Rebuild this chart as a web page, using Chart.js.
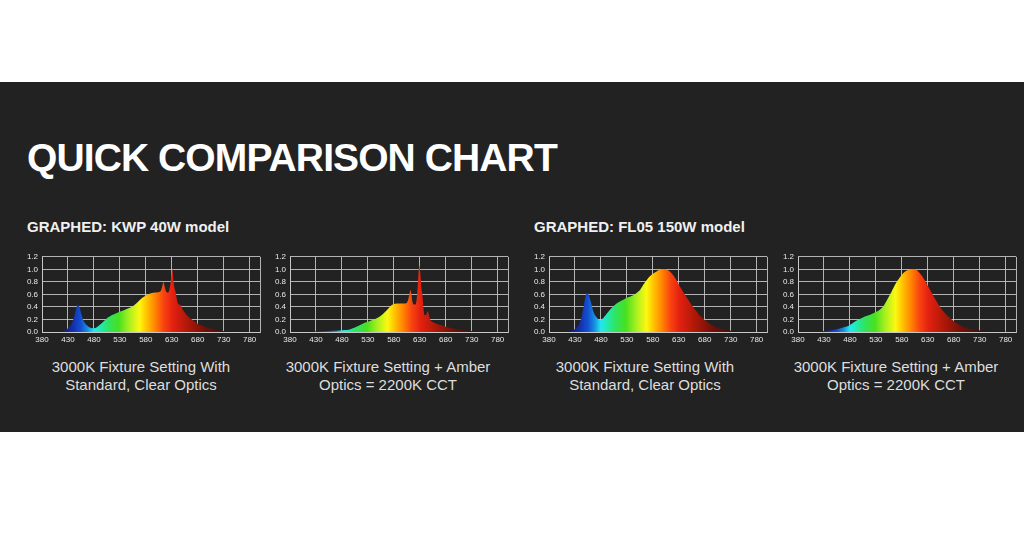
<!DOCTYPE html>
<html lang="en">
<head>
    <meta charset="UTF-8">
    <title>Quick Comparison Chart</title>
    <script src="https://cdn.jsdelivr.net/npm/chart.js@4.4.1/dist/chart.umd.min.js"></script>
    <style>
        body {
            margin: 0;
            width: 1024px;
            height: 538px;
            background: #ffffff;
            font-family: "Liberation Sans", Arial, sans-serif;
            position: relative;
            overflow: hidden;
        }
        .band {
            position: absolute;
            left: 0;
            top: 82px;
            width: 1024px;
            height: 350px;
            background: #222222;
        }
        .title {
            position: absolute;
            left: 27px;
            top: 136px;
            font-size: 39px;
            font-weight: bold;
            letter-spacing: -0.9px;
            color: #ffffff;
            white-space: nowrap;
        }
        .subtitle {
            position: absolute;
            top: 218px;
            font-size: 15px;
            font-weight: bold;
            color: #f0f0f0;
            white-space: nowrap;
        }
        canvas {
            position: absolute;
            top: 248px;
        }
        .caption {
            position: absolute;
            top: 358px;
            width: 260px;
            text-align: center;
            font-size: 15px;
            line-height: 18px;
            color: #dedede;
        }
    </style>
</head>
<body>
    <div class="band"></div>
    <div class="title">QUICK COMPARISON CHART</div>
    <div class="subtitle" style="left:27px">GRAPHED: KWP 40W model</div>
    <div class="subtitle" style="left:534px">GRAPHED: FL05 150W model</div>

    <canvas id="chart1" width="244" height="99" style="left:20px"></canvas>
    <canvas id="chart2" width="244" height="99" style="left:268px"></canvas>
    <canvas id="chart3" width="244" height="99" style="left:527px"></canvas>
    <canvas id="chart4" width="244" height="99" style="left:776px"></canvas>

    <div class="caption" style="left:11px">3000K Fixture Setting With<br>Standard, Clear Optics</div>
    <div class="caption" style="left:258px">3000K Fixture Setting + Amber<br>Optics = 2200K CCT</div>
    <div class="caption" style="left:515px">3000K Fixture Setting With<br>Standard, Clear Optics</div>
    <div class="caption" style="left:766px">3000K Fixture Setting + Amber<br>Optics = 2200K CCT</div>

    <script>
        // axis ticks (nm / relative intensity)
        const xTicks = [380, 430, 480, 530, 580, 630, 680, 730, 780];
        const xEnd = 800;
        const yTicks = [0, 0.2, 0.4, 0.6, 0.8, 1.0, 1.2];

        // KWP 40W, 3000K clear optics
        const kwpClearNm = [400, 410, 420, 430, 437, 442, 446, 449, 452, 456, 460, 466, 472, 478, 483, 488, 494, 500, 507, 515, 523, 532, 541, 550, 558, 566, 574, 582, 590, 598, 605, 609, 612, 614, 616, 619, 622, 625, 628, 630, 631, 633, 635, 637, 640, 643, 646, 648, 651, 655, 660, 667, 675, 685, 695, 705, 715, 725, 735, 745, 755];
        const kwpClearVal = [0, 0.005, 0.02, 0.06, 0.13, 0.25, 0.38, 0.43, 0.40, 0.28, 0.18, 0.11, 0.07, 0.06, 0.065, 0.09, 0.13, 0.18, 0.23, 0.27, 0.30, 0.33, 0.36, 0.39, 0.43, 0.49, 0.55, 0.59, 0.62, 0.63, 0.64, 0.66, 0.74, 0.80, 0.74, 0.65, 0.63, 0.66, 0.80, 0.98, 1.0, 0.85, 0.72, 0.66, 0.52, 0.44, 0.44, 0.41, 0.36, 0.31, 0.26, 0.21, 0.16, 0.11, 0.08, 0.055, 0.035, 0.02, 0.01, 0.003, 0];

        // KWP 40W, amber optics
        const kwpAmberNm = [415, 425, 440, 460, 475, 485, 495, 505, 515, 525, 535, 545, 555, 563, 570, 576, 582, 590, 598, 604, 607, 610, 612, 614, 616, 619, 622, 625, 627, 629, 631, 633, 635, 637, 639, 642, 645, 647, 650, 655, 662, 670, 680, 690, 700, 710, 720, 730, 740, 750, 760];
        const kwpAmberVal = [0, 0.008, 0.015, 0.02, 0.025, 0.03, 0.04, 0.07, 0.11, 0.15, 0.18, 0.21, 0.26, 0.32, 0.38, 0.43, 0.45, 0.455, 0.455, 0.46, 0.50, 0.60, 0.67, 0.60, 0.48, 0.44, 0.44, 0.60, 0.85, 1.06, 0.95, 0.72, 0.60, 0.40, 0.27, 0.27, 0.33, 0.30, 0.20, 0.16, 0.13, 0.11, 0.085, 0.065, 0.048, 0.035, 0.025, 0.017, 0.01, 0.005, 0];

        // FL05 150W, 3000K clear optics
        const flClearNm = [405, 415, 425, 432, 438, 443, 447, 450, 453, 456, 460, 465, 470, 475, 479, 483, 490, 497, 505, 513, 522, 531, 540, 548, 556, 564, 572, 580, 588, 596, 604, 610, 617, 624, 632, 640, 648, 656, 664, 672, 680, 690, 700, 710, 720, 730, 740, 750, 760];
        const flClearVal = [0, 0.01, 0.03, 0.06, 0.12, 0.25, 0.42, 0.56, 0.62, 0.60, 0.50, 0.34, 0.25, 0.20, 0.19, 0.21, 0.28, 0.35, 0.42, 0.47, 0.51, 0.55, 0.58, 0.62, 0.68, 0.78, 0.87, 0.93, 0.97, 1.0, 1.0, 0.98, 0.93, 0.85, 0.73, 0.62, 0.52, 0.42, 0.33, 0.25, 0.19, 0.13, 0.085, 0.055, 0.035, 0.02, 0.01, 0.005, 0];

        // FL05 150W, amber optics
        const flAmberNm = [410, 420, 430, 440, 450, 460, 470, 478, 485, 492, 500, 510, 520, 530, 538, 545, 552, 560, 568, 576, 584, 592, 598, 606, 612, 620, 628, 636, 644, 652, 660, 668, 676, 684, 694, 705, 715, 725, 740, 760, 780, 795];
        const flAmberVal = [0, 0.008, 0.015, 0.025, 0.035, 0.055, 0.08, 0.10, 0.14, 0.18, 0.21, 0.25, 0.28, 0.32, 0.36, 0.42, 0.52, 0.64, 0.77, 0.87, 0.95, 0.99, 1.0, 1.0, 0.96, 0.88, 0.77, 0.65, 0.53, 0.42, 0.33, 0.26, 0.20, 0.15, 0.10, 0.065, 0.045, 0.03, 0.018, 0.01, 0.005, 0];

        // spectral fill colours by wavelength
        const spectrumStops = [
            [380, '#1a0c40'], [420, '#141a70'], [440, '#1230b0'], [455, '#1450d0'],
            [468, '#1690e0'], [480, '#22e8f0'], [492, '#22eab0'], [508, '#2ee460'],
            [528, '#48e020'], [548, '#a8f020'], [568, '#fcf810'], [582, '#ffc000'],
            [598, '#ff8400'], [614, '#fa4410'], [632, '#e22010'], [660, '#b01808'],
            [695, '#701008'], [735, '#3e1010'], [800, '#2a1818']
        ];

        const gridColor = 'rgba(205, 205, 205, 0.85)';
        const tickColor = '#e8e8e8';

        function spectrumFill(context) {
            const chart = context.chart;
            const area = chart.chartArea;
            if (!area) return '#ff8000';
            const x = chart.scales.x;
            const x0 = x.getPixelForValue(380);
            const x1 = x.getPixelForValue(xEnd);
            const g = chart.ctx.createLinearGradient(x0, 0, x1, 0);
            spectrumStops.forEach(([nm, c]) => g.addColorStop((nm - 380) / (xEnd - 380), c));
            return g;
        }

        function makeChart(id, nm, values) {
            const points = nm.map((w, i) => ({ x: w, y: values[i] }));
            return new Chart(document.getElementById(id), {
                type: 'line',
                data: {
                    datasets: [{
                        data: points,
                        fill: 'origin',
                        backgroundColor: spectrumFill,
                        borderWidth: 0,
                        pointRadius: 0,
                        cubicInterpolationMode: 'monotone'
                    }]
                },
                options: {
                    responsive: false,
                    animation: false,
                    layout: { padding: { top: 5, right: 4, left: 0, bottom: 0 } },
                    plugins: { legend: { display: false }, tooltip: { enabled: false } },
                    scales: {
                        x: {
                            type: 'linear',
                            min: 380,
                            max: xEnd,
                            afterBuildTicks: scale => {
                                scale.ticks = xTicks.concat([xEnd]).map(v => ({ value: v }));
                            },
                            afterFit: scale => { scale.height = 15; },
                            grid: { color: gridColor, lineWidth: 1, drawTicks: false },
                            border: { color: gridColor },
                            ticks: {
                                color: tickColor,
                                font: { family: 'Liberation Sans', size: 8 },
                                padding: 3,
                                maxRotation: 0,
                                autoSkip: false,
                                callback: v => (v === xEnd ? '' : String(v))
                            }
                        },
                        y: {
                            min: 0,
                            max: 1.2,
                            afterBuildTicks: scale => {
                                scale.ticks = yTicks.map(v => ({ value: v }));
                            },
                            afterFit: scale => { scale.width = 22; },
                            grid: { color: gridColor, lineWidth: 1, drawTicks: false },
                            border: { color: gridColor },
                            ticks: {
                                color: tickColor,
                                font: { family: 'Liberation Sans', size: 8 },
                                padding: 4,
                                autoSkip: false,
                                callback: v => Number(v).toFixed(1)
                            }
                        }
                    }
                }
            });
        }

        makeChart('chart1', kwpClearNm, kwpClearVal);
        makeChart('chart2', kwpAmberNm, kwpAmberVal);
        makeChart('chart3', flClearNm, flClearVal);
        makeChart('chart4', flAmberNm, flAmberVal);
    </script>
</body>
</html>
